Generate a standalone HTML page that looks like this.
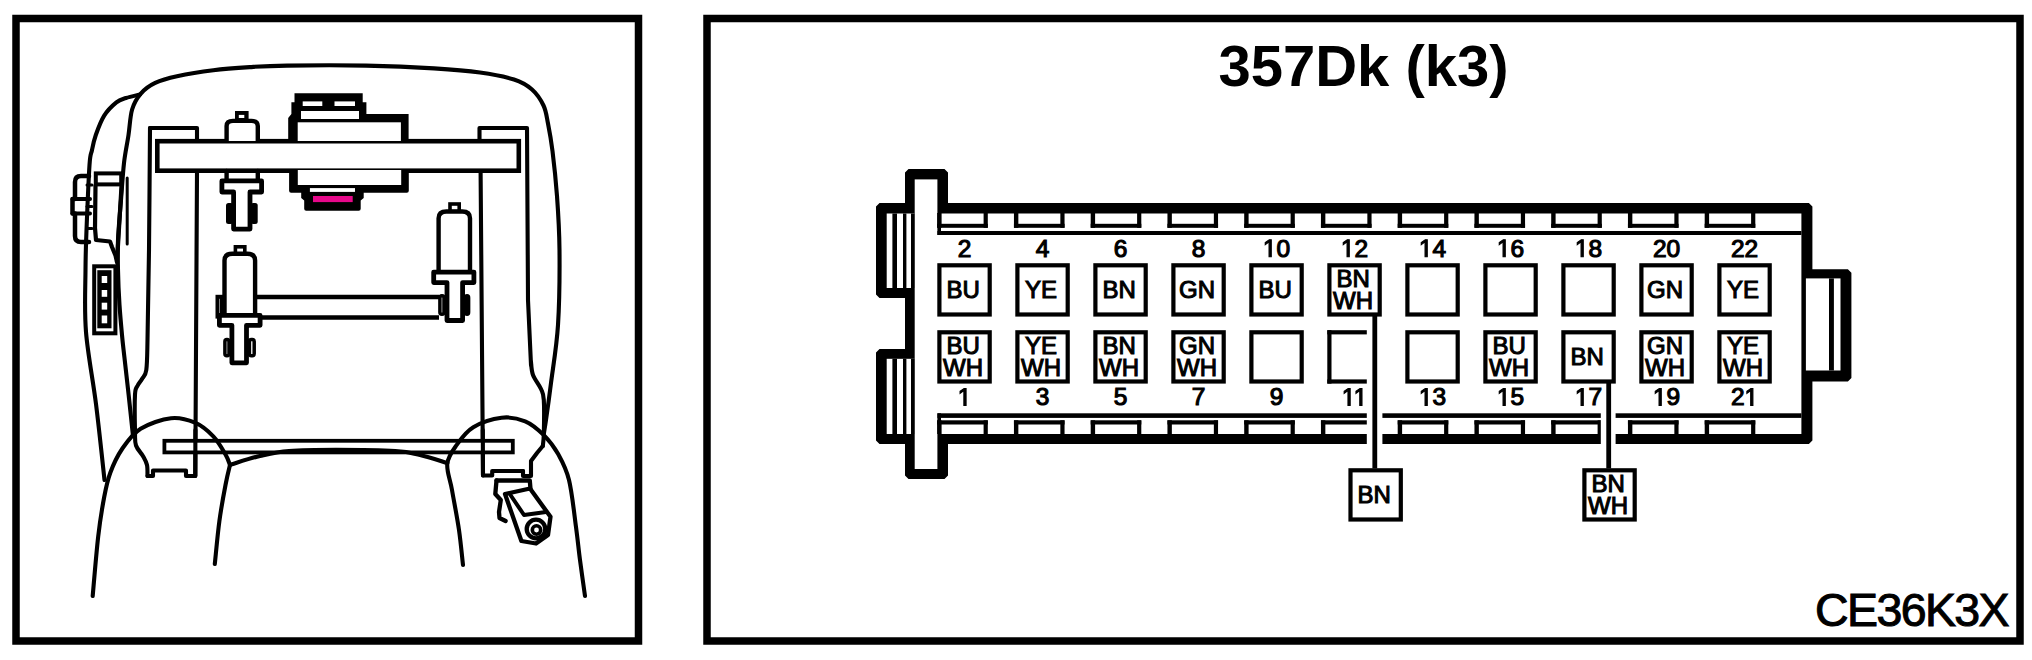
<!DOCTYPE html>
<html><head><meta charset="utf-8"><style>
html,body{margin:0;padding:0;background:#fff;}
body{width:2032px;height:660px;overflow:hidden;}
svg{display:block;}
.num{stroke:#000;stroke-width:1.15px;}
.bl{stroke:#000;stroke-width:1.05px;}
.ce{stroke:#000;stroke-width:1px;}
</style></head><body>
<svg width="2032" height="660" viewBox="0 0 2032 660">
<rect x="16" y="18.5" width="622.5" height="622.5" fill="none" stroke="#000" stroke-width="7.5"/><rect x="707" y="18.5" width="1313" height="622.5" fill="none" stroke="#000" stroke-width="7.5"/><path d="M905,172.5 L908.5,169 L944.5,169 L948,172.5 L948,203 L1808.9,203 L1812.4,206.5 L1812.4,269.3 L1847.9,269.3 L1851.4,272.8 L1851.4,377.9 L1847.9,381.4 L1812.4,381.4 L1812.4,440.5 L1808.9,444 L948,444 L948,475.5 L944.5,479 L908.5,479 L905,475.5 L905,444 L879.5,444 L876,440.5 L876,352.5 L879.5,349 L905,349 L905,298 L879.5,298 L876,294.5 L876,206.5 L879.5,203 L905,203 Z" fill="#000"/><rect x="914.70" y="179.40" width="22.70" height="289.60" fill="#fff" /><rect x="936.00" y="213.50" width="865.40" height="220.50" fill="#fff" /><rect x="886.70" y="213.50" width="28.00" height="74.50" fill="#fff" /><rect x="886.70" y="358.80" width="28.00" height="75.20" fill="#fff" /><rect x="1805.90" y="278.40" width="34.60" height="92.10" fill="#fff" /><rect x="892.40" y="213.50" width="4.60" height="74.50" fill="#000" /><rect x="903.00" y="213.50" width="3.40" height="74.50" fill="#000" /><rect x="911.00" y="213.50" width="3.70" height="74.50" fill="#000" /><rect x="892.40" y="358.80" width="4.60" height="75.20" fill="#000" /><rect x="903.00" y="358.80" width="3.40" height="75.20" fill="#000" /><rect x="911.00" y="358.80" width="3.70" height="75.20" fill="#000" /><rect x="1829.00" y="278.40" width="4.90" height="92.10" fill="#000" /><rect x="937.40" y="213.00" width="3.60" height="22.00" fill="#000" /><rect x="937.40" y="413.30" width="3.60" height="20.70" fill="#000" /><rect x="937.40" y="231.00" width="864.00" height="4.00" fill="#000" /><rect x="937.40" y="413.30" width="864.00" height="4.60" fill="#000" /><rect x="937.20" y="213.00" width="4.40" height="14.80" fill="#000" /><rect x="983.60" y="213.00" width="4.20" height="14.80" fill="#000" /><rect x="937.20" y="223.80" width="50.60" height="4.00" fill="#000" /><rect x="937.20" y="420.30" width="4.40" height="13.70" fill="#000" /><rect x="983.60" y="420.30" width="4.20" height="13.70" fill="#000" /><rect x="937.20" y="420.30" width="50.60" height="4.20" fill="#000" /><rect x="1013.95" y="213.00" width="4.40" height="14.80" fill="#000" /><rect x="1060.35" y="213.00" width="4.20" height="14.80" fill="#000" /><rect x="1013.95" y="223.80" width="50.60" height="4.00" fill="#000" /><rect x="1013.95" y="420.30" width="4.40" height="13.70" fill="#000" /><rect x="1060.35" y="420.30" width="4.20" height="13.70" fill="#000" /><rect x="1013.95" y="420.30" width="50.60" height="4.20" fill="#000" /><rect x="1090.70" y="213.00" width="4.40" height="14.80" fill="#000" /><rect x="1137.10" y="213.00" width="4.20" height="14.80" fill="#000" /><rect x="1090.70" y="223.80" width="50.60" height="4.00" fill="#000" /><rect x="1090.70" y="420.30" width="4.40" height="13.70" fill="#000" /><rect x="1137.10" y="420.30" width="4.20" height="13.70" fill="#000" /><rect x="1090.70" y="420.30" width="50.60" height="4.20" fill="#000" /><rect x="1167.45" y="213.00" width="4.40" height="14.80" fill="#000" /><rect x="1213.85" y="213.00" width="4.20" height="14.80" fill="#000" /><rect x="1167.45" y="223.80" width="50.60" height="4.00" fill="#000" /><rect x="1167.45" y="420.30" width="4.40" height="13.70" fill="#000" /><rect x="1213.85" y="420.30" width="4.20" height="13.70" fill="#000" /><rect x="1167.45" y="420.30" width="50.60" height="4.20" fill="#000" /><rect x="1244.20" y="213.00" width="4.40" height="14.80" fill="#000" /><rect x="1290.60" y="213.00" width="4.20" height="14.80" fill="#000" /><rect x="1244.20" y="223.80" width="50.60" height="4.00" fill="#000" /><rect x="1244.20" y="420.30" width="4.40" height="13.70" fill="#000" /><rect x="1290.60" y="420.30" width="4.20" height="13.70" fill="#000" /><rect x="1244.20" y="420.30" width="50.60" height="4.20" fill="#000" /><rect x="1320.95" y="213.00" width="4.40" height="14.80" fill="#000" /><rect x="1367.35" y="213.00" width="4.20" height="14.80" fill="#000" /><rect x="1320.95" y="223.80" width="50.60" height="4.00" fill="#000" /><rect x="1320.95" y="420.30" width="4.40" height="13.70" fill="#000" /><rect x="1367.35" y="420.30" width="4.20" height="13.70" fill="#000" /><rect x="1320.95" y="420.30" width="50.60" height="4.20" fill="#000" /><rect x="1397.70" y="213.00" width="4.40" height="14.80" fill="#000" /><rect x="1444.10" y="213.00" width="4.20" height="14.80" fill="#000" /><rect x="1397.70" y="223.80" width="50.60" height="4.00" fill="#000" /><rect x="1397.70" y="420.30" width="4.40" height="13.70" fill="#000" /><rect x="1444.10" y="420.30" width="4.20" height="13.70" fill="#000" /><rect x="1397.70" y="420.30" width="50.60" height="4.20" fill="#000" /><rect x="1474.45" y="213.00" width="4.40" height="14.80" fill="#000" /><rect x="1520.85" y="213.00" width="4.20" height="14.80" fill="#000" /><rect x="1474.45" y="223.80" width="50.60" height="4.00" fill="#000" /><rect x="1474.45" y="420.30" width="4.40" height="13.70" fill="#000" /><rect x="1520.85" y="420.30" width="4.20" height="13.70" fill="#000" /><rect x="1474.45" y="420.30" width="50.60" height="4.20" fill="#000" /><rect x="1551.20" y="213.00" width="4.40" height="14.80" fill="#000" /><rect x="1597.60" y="213.00" width="4.20" height="14.80" fill="#000" /><rect x="1551.20" y="223.80" width="50.60" height="4.00" fill="#000" /><rect x="1551.20" y="420.30" width="4.40" height="13.70" fill="#000" /><rect x="1597.60" y="420.30" width="4.20" height="13.70" fill="#000" /><rect x="1551.20" y="420.30" width="50.60" height="4.20" fill="#000" /><rect x="1627.95" y="213.00" width="4.40" height="14.80" fill="#000" /><rect x="1674.35" y="213.00" width="4.20" height="14.80" fill="#000" /><rect x="1627.95" y="223.80" width="50.60" height="4.00" fill="#000" /><rect x="1627.95" y="420.30" width="4.40" height="13.70" fill="#000" /><rect x="1674.35" y="420.30" width="4.20" height="13.70" fill="#000" /><rect x="1627.95" y="420.30" width="50.60" height="4.20" fill="#000" /><rect x="1704.70" y="213.00" width="4.40" height="14.80" fill="#000" /><rect x="1751.10" y="213.00" width="4.20" height="14.80" fill="#000" /><rect x="1704.70" y="223.80" width="50.60" height="4.00" fill="#000" /><rect x="1704.70" y="420.30" width="4.40" height="13.70" fill="#000" /><rect x="1751.10" y="420.30" width="4.20" height="13.70" fill="#000" /><rect x="1704.70" y="420.30" width="50.60" height="4.20" fill="#000" /><rect x="939.40" y="265.30" width="50.30" height="49.20" fill="#fff" stroke="#000" stroke-width="4.2"/><text x="963.05" y="298.2" text-anchor="middle" font-family="Liberation Sans, sans-serif" font-size="24" class="bl">BU</text><rect x="939.40" y="332.30" width="50.30" height="49.20" fill="#fff" stroke="#000" stroke-width="4.2"/><text x="963.05" y="353.7" text-anchor="middle" font-family="Liberation Sans, sans-serif" font-size="24" class="bl">BU</text><text x="963.05" y="375.7" text-anchor="middle" font-family="Liberation Sans, sans-serif" font-size="24" class="bl">WH</text><text x="957.73" y="256.70" font-family="Liberation Sans, sans-serif" font-size="24.5" class="num">2</text><path d="M515,0 L515,1237 L197,1010 L197,1180 L530,1409 L696,1409 L696,0 Z" transform="translate(957.73,405.40) scale(0.011963,-0.011963)" fill="#000" stroke="#000" stroke-width="96.1"/><rect x="1017.40" y="265.30" width="50.30" height="49.20" fill="#fff" stroke="#000" stroke-width="4.2"/><text x="1041.05" y="298.2" text-anchor="middle" font-family="Liberation Sans, sans-serif" font-size="24" class="bl">YE</text><rect x="1017.40" y="332.30" width="50.30" height="49.20" fill="#fff" stroke="#000" stroke-width="4.2"/><text x="1041.05" y="353.7" text-anchor="middle" font-family="Liberation Sans, sans-serif" font-size="24" class="bl">YE</text><text x="1041.05" y="375.7" text-anchor="middle" font-family="Liberation Sans, sans-serif" font-size="24" class="bl">WH</text><text x="1035.73" y="256.70" font-family="Liberation Sans, sans-serif" font-size="24.5" class="num">4</text><text x="1035.73" y="405.40" font-family="Liberation Sans, sans-serif" font-size="24.5" class="num">3</text><rect x="1095.40" y="265.30" width="50.30" height="49.20" fill="#fff" stroke="#000" stroke-width="4.2"/><text x="1119.05" y="298.2" text-anchor="middle" font-family="Liberation Sans, sans-serif" font-size="24" class="bl">BN</text><rect x="1095.40" y="332.30" width="50.30" height="49.20" fill="#fff" stroke="#000" stroke-width="4.2"/><text x="1119.05" y="353.7" text-anchor="middle" font-family="Liberation Sans, sans-serif" font-size="24" class="bl">BN</text><text x="1119.05" y="375.7" text-anchor="middle" font-family="Liberation Sans, sans-serif" font-size="24" class="bl">WH</text><text x="1113.73" y="256.70" font-family="Liberation Sans, sans-serif" font-size="24.5" class="num">6</text><text x="1113.73" y="405.40" font-family="Liberation Sans, sans-serif" font-size="24.5" class="num">5</text><rect x="1173.40" y="265.30" width="50.30" height="49.20" fill="#fff" stroke="#000" stroke-width="4.2"/><text x="1197.05" y="298.2" text-anchor="middle" font-family="Liberation Sans, sans-serif" font-size="24" class="bl">GN</text><rect x="1173.40" y="332.30" width="50.30" height="49.20" fill="#fff" stroke="#000" stroke-width="4.2"/><text x="1197.05" y="353.7" text-anchor="middle" font-family="Liberation Sans, sans-serif" font-size="24" class="bl">GN</text><text x="1197.05" y="375.7" text-anchor="middle" font-family="Liberation Sans, sans-serif" font-size="24" class="bl">WH</text><text x="1191.73" y="256.70" font-family="Liberation Sans, sans-serif" font-size="24.5" class="num">8</text><text x="1191.73" y="405.40" font-family="Liberation Sans, sans-serif" font-size="24.5" class="num">7</text><rect x="1251.40" y="265.30" width="50.30" height="49.20" fill="#fff" stroke="#000" stroke-width="4.2"/><text x="1275.05" y="298.2" text-anchor="middle" font-family="Liberation Sans, sans-serif" font-size="24" class="bl">BU</text><rect x="1251.40" y="332.30" width="50.30" height="49.20" fill="#fff" stroke="#000" stroke-width="4.2"/><path d="M515,0 L515,1237 L197,1010 L197,1180 L530,1409 L696,1409 L696,0 Z" transform="translate(1262.92,256.70) scale(0.011963,-0.011963)" fill="#000" stroke="#000" stroke-width="96.1"/><text x="1276.54" y="256.70" font-family="Liberation Sans, sans-serif" font-size="24.5" class="num">0</text><text x="1269.73" y="405.40" font-family="Liberation Sans, sans-serif" font-size="24.5" class="num">9</text><rect x="1329.40" y="265.30" width="50.30" height="49.20" fill="#fff" stroke="#000" stroke-width="4.2"/><text x="1353.05" y="286.7" text-anchor="middle" font-family="Liberation Sans, sans-serif" font-size="24" class="bl">BN</text><text x="1353.05" y="308.7" text-anchor="middle" font-family="Liberation Sans, sans-serif" font-size="24" class="bl">WH</text><rect x="1327.30" y="330.20" width="4.20" height="53.40" fill="#000" /><rect x="1327.30" y="330.20" width="39.50" height="4.20" fill="#000" /><rect x="1327.30" y="379.40" width="39.50" height="4.20" fill="#000" /><path d="M515,0 L515,1237 L197,1010 L197,1180 L530,1409 L696,1409 L696,0 Z" transform="translate(1340.92,256.70) scale(0.011963,-0.011963)" fill="#000" stroke="#000" stroke-width="96.1"/><text x="1354.54" y="256.70" font-family="Liberation Sans, sans-serif" font-size="24.5" class="num">2</text><path d="M515,0 L515,1237 L197,1010 L197,1180 L530,1409 L696,1409 L696,0 Z" transform="translate(1341.83,405.40) scale(0.011963,-0.011963)" fill="#000" stroke="#000" stroke-width="96.1"/><path d="M515,0 L515,1237 L197,1010 L197,1180 L530,1409 L696,1409 L696,0 Z" transform="translate(1353.63,405.40) scale(0.011963,-0.011963)" fill="#000" stroke="#000" stroke-width="96.1"/><rect x="1407.40" y="265.30" width="50.30" height="49.20" fill="#fff" stroke="#000" stroke-width="4.2"/><rect x="1407.40" y="332.30" width="50.30" height="49.20" fill="#fff" stroke="#000" stroke-width="4.2"/><path d="M515,0 L515,1237 L197,1010 L197,1180 L530,1409 L696,1409 L696,0 Z" transform="translate(1418.92,256.70) scale(0.011963,-0.011963)" fill="#000" stroke="#000" stroke-width="96.1"/><text x="1432.54" y="256.70" font-family="Liberation Sans, sans-serif" font-size="24.5" class="num">4</text><path d="M515,0 L515,1237 L197,1010 L197,1180 L530,1409 L696,1409 L696,0 Z" transform="translate(1418.92,405.40) scale(0.011963,-0.011963)" fill="#000" stroke="#000" stroke-width="96.1"/><text x="1432.54" y="405.40" font-family="Liberation Sans, sans-serif" font-size="24.5" class="num">3</text><rect x="1485.40" y="265.30" width="50.30" height="49.20" fill="#fff" stroke="#000" stroke-width="4.2"/><rect x="1485.40" y="332.30" width="50.30" height="49.20" fill="#fff" stroke="#000" stroke-width="4.2"/><text x="1509.05" y="353.7" text-anchor="middle" font-family="Liberation Sans, sans-serif" font-size="24" class="bl">BU</text><text x="1509.05" y="375.7" text-anchor="middle" font-family="Liberation Sans, sans-serif" font-size="24" class="bl">WH</text><path d="M515,0 L515,1237 L197,1010 L197,1180 L530,1409 L696,1409 L696,0 Z" transform="translate(1496.92,256.70) scale(0.011963,-0.011963)" fill="#000" stroke="#000" stroke-width="96.1"/><text x="1510.54" y="256.70" font-family="Liberation Sans, sans-serif" font-size="24.5" class="num">6</text><path d="M515,0 L515,1237 L197,1010 L197,1180 L530,1409 L696,1409 L696,0 Z" transform="translate(1496.92,405.40) scale(0.011963,-0.011963)" fill="#000" stroke="#000" stroke-width="96.1"/><text x="1510.54" y="405.40" font-family="Liberation Sans, sans-serif" font-size="24.5" class="num">5</text><rect x="1563.40" y="265.30" width="50.30" height="49.20" fill="#fff" stroke="#000" stroke-width="4.2"/><rect x="1563.40" y="332.30" width="50.30" height="49.20" fill="#fff" stroke="#000" stroke-width="4.2"/><text x="1587.05" y="365.2" text-anchor="middle" font-family="Liberation Sans, sans-serif" font-size="24" class="bl">BN</text><path d="M515,0 L515,1237 L197,1010 L197,1180 L530,1409 L696,1409 L696,0 Z" transform="translate(1574.92,256.70) scale(0.011963,-0.011963)" fill="#000" stroke="#000" stroke-width="96.1"/><text x="1588.54" y="256.70" font-family="Liberation Sans, sans-serif" font-size="24.5" class="num">8</text><path d="M515,0 L515,1237 L197,1010 L197,1180 L530,1409 L696,1409 L696,0 Z" transform="translate(1574.92,405.40) scale(0.011963,-0.011963)" fill="#000" stroke="#000" stroke-width="96.1"/><text x="1588.54" y="405.40" font-family="Liberation Sans, sans-serif" font-size="24.5" class="num">7</text><rect x="1641.40" y="265.30" width="50.30" height="49.20" fill="#fff" stroke="#000" stroke-width="4.2"/><text x="1665.05" y="298.2" text-anchor="middle" font-family="Liberation Sans, sans-serif" font-size="24" class="bl">GN</text><rect x="1641.40" y="332.30" width="50.30" height="49.20" fill="#fff" stroke="#000" stroke-width="4.2"/><text x="1665.05" y="353.7" text-anchor="middle" font-family="Liberation Sans, sans-serif" font-size="24" class="bl">GN</text><text x="1665.05" y="375.7" text-anchor="middle" font-family="Liberation Sans, sans-serif" font-size="24" class="bl">WH</text><text x="1652.92" y="256.70" font-family="Liberation Sans, sans-serif" font-size="24.5" class="num">2</text><text x="1666.54" y="256.70" font-family="Liberation Sans, sans-serif" font-size="24.5" class="num">0</text><path d="M515,0 L515,1237 L197,1010 L197,1180 L530,1409 L696,1409 L696,0 Z" transform="translate(1652.92,405.40) scale(0.011963,-0.011963)" fill="#000" stroke="#000" stroke-width="96.1"/><text x="1666.54" y="405.40" font-family="Liberation Sans, sans-serif" font-size="24.5" class="num">9</text><rect x="1719.40" y="265.30" width="50.30" height="49.20" fill="#fff" stroke="#000" stroke-width="4.2"/><text x="1743.05" y="298.2" text-anchor="middle" font-family="Liberation Sans, sans-serif" font-size="24" class="bl">YE</text><rect x="1719.40" y="332.30" width="50.30" height="49.20" fill="#fff" stroke="#000" stroke-width="4.2"/><text x="1743.05" y="353.7" text-anchor="middle" font-family="Liberation Sans, sans-serif" font-size="24" class="bl">YE</text><text x="1743.05" y="375.7" text-anchor="middle" font-family="Liberation Sans, sans-serif" font-size="24" class="bl">WH</text><text x="1730.92" y="256.70" font-family="Liberation Sans, sans-serif" font-size="24.5" class="num">2</text><text x="1744.54" y="256.70" font-family="Liberation Sans, sans-serif" font-size="24.5" class="num">2</text><text x="1730.92" y="405.40" font-family="Liberation Sans, sans-serif" font-size="24.5" class="num">2</text><path d="M515,0 L515,1237 L197,1010 L197,1180 L530,1409 L696,1409 L696,0 Z" transform="translate(1744.54,405.40) scale(0.011963,-0.011963)" fill="#000" stroke="#000" stroke-width="96.1"/><rect x="1366.80" y="410.00" width="15.60" height="36.00" fill="#fff" /><rect x="1372.40" y="316.00" width="4.80" height="152.50" fill="#000" /><rect x="1600.80" y="410.00" width="14.80" height="36.00" fill="#fff" /><rect x="1606.30" y="383.00" width="4.80" height="85.50" fill="#000" /><rect x="1350.50" y="470.30" width="50.30" height="49.20" fill="#fff" stroke="#000" stroke-width="4.2"/><text x="1374.15" y="503.2" text-anchor="middle" font-family="Liberation Sans, sans-serif" font-size="24" class="bl">BN</text><rect x="1584.40" y="470.30" width="50.30" height="49.20" fill="#fff" stroke="#000" stroke-width="4.2"/><text x="1608.05" y="491.7" text-anchor="middle" font-family="Liberation Sans, sans-serif" font-size="24" class="bl">BN</text><text x="1608.05" y="513.7" text-anchor="middle" font-family="Liberation Sans, sans-serif" font-size="24" class="bl">WH</text><text x="1363.5" y="86" text-anchor="middle" font-family="Liberation Sans, sans-serif" font-size="58" font-weight="bold">357Dk (k3)</text><text x="1911.5" y="626" text-anchor="middle" font-family="Liberation Sans, sans-serif" font-size="46.5" letter-spacing="-1.6" class="ce">CE36K3X</text><path d="M104.5,480 C103.1,467.3 99.1,428.7 96,404 C92.9,379.3 87.8,354.3 86,332 C84.2,309.7 85.4,287.0 85.5,270 C85.6,253.0 85.8,247.5 86.5,230 C87.2,212.5 88.6,178.3 89.5,165 C90.4,151.7 91.0,155.0 92,150 C93.0,145.0 93.8,140.7 95.8,135 C97.8,129.3 100.8,121.0 104.2,115.6 C107.6,110.1 112.8,105.2 116.4,102.3 C120.0,99.4 122.1,99.3 126,98 C129.9,96.7 137.7,95.0 140,94.4" fill="none" stroke="#000" stroke-width="4.1" stroke-linejoin="round" stroke-linecap="round"/><path d="M133,436 C132.3,429.1 130.0,407.5 128.6,394.5 C127.2,381.5 125.6,367.9 124.5,358 C123.4,348.1 122.8,343.8 122,335 C121.2,326.2 120.2,315.8 119.5,305 C118.8,294.2 118.2,280.8 118,270 C117.8,259.2 117.5,251.7 118,240 C118.5,228.3 120.0,212.8 121,200 C122.0,187.2 122.8,173.8 124,163 C125.2,152.2 127.2,143.9 128.5,135 C129.8,126.1 130.1,116.4 132.1,109.5 C134.1,102.6 136.8,98.2 140.6,93.8 C144.4,89.4 149.1,85.8 155.2,82.9 C161.3,80.0 167.3,78.3 177,76.2 C186.7,74.1 201.2,71.7 213.3,70.2 C225.4,68.7 237.4,67.9 249.7,67.1 C262.0,66.3 267.6,65.8 287,65.6 C306.4,65.3 341.5,65.1 366,65.6 C390.5,66.1 415.0,67.2 434,68.4 C453.0,69.6 466.7,70.7 480,72.5 C493.3,74.3 505.3,76.7 514,79.5 C522.7,82.3 527.1,85.2 532,89.5 C536.9,93.8 540.8,99.8 543.5,105.5 C546.2,111.2 546.5,115.9 548,123.5 C549.5,131.1 551.0,138.9 552.5,151 C554.0,163.1 555.8,179.5 557,196 C558.2,212.5 559.3,228.5 559.5,250 C559.7,271.5 559.4,302.8 558,325 C556.6,347.2 553.0,367.2 551,383 C549.0,398.8 547.2,411.7 546,420 C544.8,428.3 544.3,430.8 544,433" fill="none" stroke="#000" stroke-width="4.1" stroke-linejoin="round" stroke-linecap="round"/><path d="M127.2,178 L127.2,244" fill="none" stroke="#000" stroke-width="3" stroke-linejoin="round" stroke-linecap="round"/><path d="M150,128 C149.8,148.3 149.4,214.7 149,250 C148.6,285.3 147.9,320.0 147.5,340 C147.1,360.0 147.2,363.5 146.3,370 C145.4,376.5 143.4,376.4 142,379 C140.6,381.6 138.9,382.9 137.7,385.5 C136.5,388.1 135.4,386.9 135,394.5 C134.6,402.1 134.8,422.5 135,431 C135.2,439.5 134.6,441.3 136,445.5 C137.4,449.7 141.4,453.1 143.2,456.4 C145.0,459.6 146.3,461.7 147,465 C147.7,468.3 147.4,474.2 147.5,476" fill="none" stroke="#000" stroke-width="4.1" stroke-linejoin="round" stroke-linecap="round"/><path d="M147.5,476 L153,476 L153,470.5 L186,470.5 L186,476 L195.3,476 L197,172" fill="none" stroke="#000" stroke-width="4.1" stroke-linejoin="round" stroke-linecap="round"/><path d="M150,128 L197,128 L197,141" fill="none" stroke="#000" stroke-width="4.1" stroke-linejoin="round" stroke-linecap="round"/><path d="M479.5,141 L479.5,128 L527,128 L528,300 L531,365" fill="none" stroke="#000" stroke-width="4.1" stroke-linejoin="round" stroke-linecap="round"/><path d="M531,362 C531.3,364.2 531.3,370.5 533,375 C534.7,379.5 539.2,384.8 541,389 C542.8,393.2 543.3,392.5 543.8,400 C544.3,407.5 544.0,426.3 543.8,434 C543.6,441.7 543.0,444.0 542.8,446" fill="none" stroke="#000" stroke-width="4.1" stroke-linejoin="round" stroke-linecap="round"/><path d="M542.8,446 L537,453 L531,461 L531,476 L523,476 L523,471" fill="none" stroke="#000" stroke-width="4.1" stroke-linejoin="round" stroke-linecap="round"/><path d="M523,471 L492.2,471 L492.2,475.5 L483,475.5 L480.6,172" fill="none" stroke="#000" stroke-width="4.1" stroke-linejoin="round" stroke-linecap="round"/><rect x="157.3" y="141.2" width="361.5" height="29.5" fill="#fff" stroke="#000" stroke-width="4.6"/><path d="M294.5,93.2 L362.7,93.2 L362.7,102.3 L366.4,102.3 L366.4,114 L408.6,114 L408.6,141 L288.2,141 L288.2,118 L291.4,114 L291.4,102.3 L294.5,102.3 Z" fill="#000"/><rect x="297.70" y="122.30" width="103.20" height="18.70" fill="#fff" /><rect x="301.00" y="111.00" width="58.00" height="8.00" fill="#fff" /><rect x="302.70" y="101.40" width="19.60" height="4.60" fill="#fff" /><rect x="334.50" y="101.40" width="20.50" height="4.60" fill="#fff" /><path d="M289.1,170 L408.8,170 L408.8,190.7 Q408.8,192.7 406.8,192.7 L363.7,192.7 L363.7,198 L360.7,200.5 L360.7,208.8 Q360.7,210.8 358.7,210.8 L306.2,210.8 Q304.2,210.8 304.2,208.8 L304.2,200.5 L301.2,198 L301.2,192.7 L291.1,192.7 Q289.1,192.7 289.1,190.7 Z" fill="#000"/><rect x="297.80" y="170.00" width="103.40" height="15.00" fill="#fff" /><rect x="309.90" y="188.10" width="45.10" height="3.80" fill="#fff" /><rect x="313.00" y="196.00" width="39.70" height="6.10" fill="#e6088a" /><path d="M226.6,141 L226.6,126 Q226.6,120.9 233,120.9 L251.5,120.9 Q257.8,120.9 257.8,126 L257.8,141" fill="#fff" stroke="#000" stroke-width="4.4"/><rect x="235.00" y="111.00" width="13.60" height="10.50" fill="#000" /><rect x="238.80" y="114.90" width="5.50" height="3.10" fill="#fff" /><path d="M226.6,171 L226.6,181" fill="none" stroke="#000" stroke-width="4.4" stroke-linejoin="round" stroke-linecap="round"/><path d="M257.8,171 L257.8,181" fill="none" stroke="#000" stroke-width="4.4" stroke-linejoin="round" stroke-linecap="round"/><path d="M221.9,180.9 L261.6,180.9 L261.6,192.0 L250.0,192.0 L250.0,229.1 L233.6,229.1 L233.6,192.0 L221.9,192.0 Z" fill="#fff" stroke="#000" stroke-width="4.8" stroke-linejoin="round"/><rect x="226.00" y="202.90" width="7.00" height="21.10" fill="#000" rx="2.5"/><rect x="250.60" y="202.90" width="7.10" height="21.10" fill="#000" rx="2.5"/><path d="M256,297 L439,297" fill="none" stroke="#000" stroke-width="4.3" stroke-linejoin="round" stroke-linecap="butt"/><path d="M262,317.5 L439,317.5" fill="none" stroke="#000" stroke-width="4.3" stroke-linejoin="round" stroke-linecap="butt"/><rect x="233.60" y="245.00" width="13.00" height="10.00" fill="#000" /><rect x="237.20" y="248.60" width="5.80" height="3.90" fill="#fff" /><path d="M224.5,317.5 L224.5,260.6 Q224.5,253.79999999999998 232.3,253.79999999999998 L247.3,253.79999999999998 Q255.10000000000002,253.79999999999998 255.10000000000002,260.6 L255.10000000000002,317.5" fill="#fff" stroke="#000" stroke-width="4.4"/><rect x="217.5" y="296.8" width="4.5" height="19.80000000000001" fill="#fff" stroke="#000" stroke-width="4"/><path d="M219.4,315.4 L260.1,315.4 L260.1,325.3 L246.5,325.3 L246.5,362.8 L231.9,362.8 L231.9,325.3 L219.4,325.3 Z" fill="#fff" stroke="#000" stroke-width="4.8" stroke-linejoin="round"/><rect x="224.9" y="339.5" width="4.099999999999994" height="16.30000000000001" fill="#fff" stroke="#000" stroke-width="3.5" rx="2"/><rect x="249.4" y="339.5" width="4.799999999999983" height="16.30000000000001" fill="#fff" stroke="#000" stroke-width="3.5" rx="2"/><rect x="448.20" y="202.20" width="12.80" height="10.10" fill="#000" /><rect x="451.80" y="205.80" width="5.60" height="4.00" fill="#fff" /><path d="M438.59999999999997,271 L438.59999999999997,218.3 Q438.59999999999997,211.5 446.4,211.5 L462.2,211.5 Q470.0,211.5 470.0,218.3 L470.0,271" fill="#fff" stroke="#000" stroke-width="4.4"/><path d="M433.7,272.09999999999997 L473.90000000000003,272.09999999999997 L473.90000000000003,282.6 L462.6,282.6 L462.6,320.5 L447.0,320.5 L447.0,282.6 L433.7,282.6 Z" fill="#fff" stroke="#000" stroke-width="4.8" stroke-linejoin="round"/><rect x="439.9" y="295.8" width="4.100000000000023" height="18.5" fill="#fff" stroke="#000" stroke-width="3.5" rx="2"/><rect x="465.5" y="295.8" width="3.1000000000000227" height="18.5" fill="#fff" stroke="#000" stroke-width="3.5" rx="2"/><path d="M89,176 L81,176 Q75,176 75,182 L75,199 L72.5,199 L72.5,213.6 L75,213.6 L75,236 Q75,242 81,242 L89,242" fill="none" stroke="#000" stroke-width="4.5" stroke-linejoin="round" stroke-linecap="round"/><path d="M72.5,199 L90,199" fill="none" stroke="#000" stroke-width="4" stroke-linejoin="round" stroke-linecap="round"/><path d="M72.5,213.6 L90,213.6" fill="none" stroke="#000" stroke-width="4" stroke-linejoin="round" stroke-linecap="round"/><rect x="95.8" y="173.4" width="25.4" height="11" fill="#fff" stroke="#000" stroke-width="4"/><path d="M95.5,186 L95,228 L96,240 L110,241.5 L112,247 L115.5,255.5 L117,262" fill="none" stroke="#000" stroke-width="4.2" stroke-linejoin="round" stroke-linecap="round"/><path d="M121.5,186 L117,262" fill="none" stroke="#000" stroke-width="4.2" stroke-linejoin="round" stroke-linecap="round"/><path d="M87,184.9 L92,184.9" fill="none" stroke="#000" stroke-width="3" stroke-linejoin="round" stroke-linecap="round"/><path d="M87,206.4 L92,206.4" fill="none" stroke="#000" stroke-width="3" stroke-linejoin="round" stroke-linecap="round"/><path d="M87,228.6 L92,228.6" fill="none" stroke="#000" stroke-width="3" stroke-linejoin="round" stroke-linecap="round"/><rect x="94.2" y="266.3" width="21.2" height="67" fill="#fff" stroke="#000" stroke-width="4"/><rect x="97.30" y="270.20" width="14.20" height="58.10" fill="#000" /><rect x="101.70" y="276.00" width="5.50" height="7.00" fill="#fff" /><rect x="101.70" y="290.00" width="5.50" height="6.80" fill="#fff" /><rect x="101.70" y="302.70" width="5.50" height="6.90" fill="#fff" /><rect x="101.70" y="315.50" width="5.50" height="7.80" fill="#fff" /><rect x="164.4" y="440.8" width="348.4" height="11.6" fill="#fff" stroke="#000" stroke-width="3.8"/><path d="M195.4,430 L195.3,476" fill="none" stroke="#000" stroke-width="4.1" stroke-linejoin="round" stroke-linecap="round"/><path d="M482.8,430 L483,475.5" fill="none" stroke="#000" stroke-width="4.1" stroke-linejoin="round" stroke-linecap="round"/><path d="M92.7,596 C93.6,586.1 96.3,552.9 98.2,536.4 C100.1,519.9 102.2,507.6 104.2,497 C106.2,486.4 107.3,480.8 110.3,472.7 C113.3,464.6 117.4,455.8 122.4,448.5 C127.5,441.2 132.5,433.9 140.6,428.8 C148.7,423.8 161.9,419.2 171,418.2 C180.1,417.2 187.9,419.7 195,422.7 C202.1,425.7 208.2,431.1 213.3,436.4 C218.4,441.7 222.7,449.7 225.5,454.5 C228.3,459.3 229.2,463.2 230,465" fill="none" stroke="#000" stroke-width="4.1" stroke-linejoin="round" stroke-linecap="round"/><path d="M230,465 C229.2,468.3 227.3,475.7 225.5,485 C223.7,494.3 221.2,507.8 219.4,521 C217.6,534.2 215.6,556.8 214.8,564" fill="none" stroke="#000" stroke-width="4.1" stroke-linejoin="round" stroke-linecap="round"/><path d="M463,565 C462.3,559.2 460.8,542.5 459,530 C457.2,517.5 453.9,501.0 452,490 C450.1,479.0 446.5,471.3 447.3,463.8 C448.1,456.3 452.4,451.0 456.7,444.9 C461.0,438.8 465.8,431.7 473.3,427.2 C480.8,422.7 493.0,418.7 501.6,417.7 C510.2,416.7 518.1,418.4 525.2,421.3 C532.3,424.2 538.6,429.9 544.1,435.4 C549.6,440.9 554.1,446.9 558.3,454.3 C562.4,461.7 566.0,467.9 569,480 C572.0,492.1 574.2,513.7 576,527 C577.8,540.3 578.5,548.5 580,560 C581.5,571.5 584.2,590.0 585,596" fill="none" stroke="#000" stroke-width="4.1" stroke-linejoin="round" stroke-linecap="round"/><path d="M231,464.5 C235.8,463.1 250.3,458.2 260,456 C269.7,453.8 276.3,452.0 289,451 C301.7,450.0 318.3,449.8 336,449.8 C353.7,449.8 381.3,450.1 395.3,451 C409.3,451.9 411.3,453.0 420,455 C428.7,457.0 442.8,461.7 447.3,463" fill="none" stroke="#000" stroke-width="4.1" stroke-linejoin="round" stroke-linecap="round"/><path d="M496.5,480.5 L529.8,480.5 L530.5,489" fill="none" stroke="#000" stroke-width="4.3" stroke-linejoin="round" stroke-linecap="round"/><path d="M496.5,480.5 L495.3,494 L500.8,500 L499,512 L499.5,518 L505.6,521" fill="none" stroke="#000" stroke-width="4.3" stroke-linejoin="round" stroke-linecap="round"/><path d="M505,494 L530,488.5 L550.5,516.8 L548,535 L536,543.5 L521.4,541 Z" fill="#fff" stroke="#000" stroke-width="4.3" stroke-linejoin="round"/><path d="M509.8,494 L524,515 L546,512" fill="none" stroke="#000" stroke-width="4" stroke-linejoin="round" stroke-linecap="round"/><circle cx="536" cy="529" r="9.3" fill="#fff" stroke="#000" stroke-width="4.3"/><circle cx="536.5" cy="530" r="4.2" fill="#fff" stroke="#000" stroke-width="3.6"/>
</svg></body></html>
